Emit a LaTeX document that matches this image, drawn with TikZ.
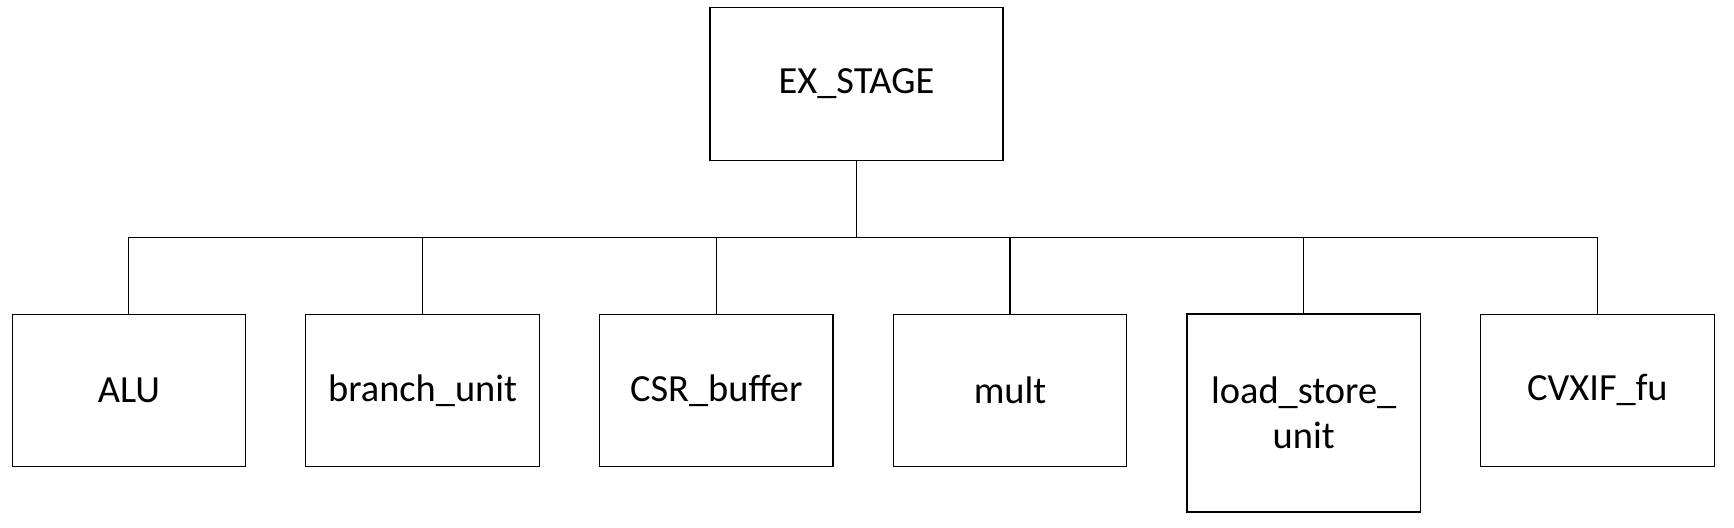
\documentclass[tikz,border=0pt]{standalone}
\usepackage{fontspec}
\setmainfont{Carlito}
\begin{document}
\begin{tikzpicture}[x=0.5pt,y=-0.5pt,
  box/.style={draw, line width=0.55pt, minimum width=116.7pt, minimum height=76.3pt, inner sep=0pt, align=center, font=\fontsize{19.2pt}{22.8pt}\selectfont},
  link/.style={line width=0.55pt}]
\useasboundingbox (0,0) rectangle (1734,528);
\node[box, minimum width=146.5pt] (ex) at (856.5,84) {EX\_STAGE};
\node[box] (alu) at (128.9,390.4) {ALU};
\node[box] (br) at (422.6,390.4) {branch\_unit};
\node[box] (csr) at (716.3,390.4) {CSR\_buffer};
\node[box] (mult) at (1010,390.4) {mult};
\node[box, minimum height=99pt] (ls) at (1303.7,413) {load\_store\_\\unit};
\node[box] (cv) at (1597.4,390.4) {CVXIF\_fu};
\coordinate (bus) at (856.5,237.8);
\draw[link] (ex.south) -- (bus);
\foreach \n in {alu,br,csr,mult,ls,cv}
  \draw[link] (bus) -| (\n.north);
\end{tikzpicture}
\end{document}
